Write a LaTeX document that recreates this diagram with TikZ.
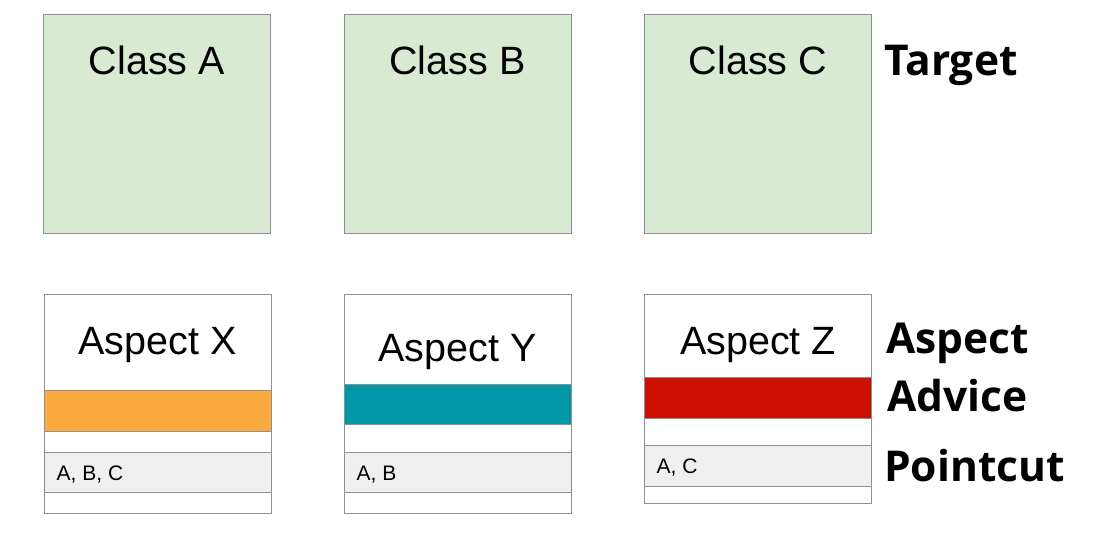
\documentclass[tikz,border=0pt]{standalone}
\usepackage{fontspec}
\setmainfont{Liberation Sans}
\newfontfamily\labelfont{Open Sans}[BoldFont={* Bold}]
\definecolor{bordergray}{HTML}{8F8F8F}
\definecolor{classgreen}{HTML}{D9EAD3}
\definecolor{bandorange}{HTML}{FBAA40}
\definecolor{bandteal}{HTML}{0097A7}
\definecolor{bandred}{HTML}{CC0F00}
\definecolor{bandgray}{HTML}{EFEFEF}
\begin{document}
\begin{tikzpicture}[x=1pt,y=-1pt,
  frame/.style={draw=bordergray, line width=1pt, minimum width=227pt, inner sep=0pt, anchor=north west, outer sep=0pt},
  classbox/.style={frame, fill=classgreen, minimum height=219pt},
  band/.style={draw=bordergray, line width=0.8pt, minimum width=227pt, inner sep=0pt, anchor=north west, outer sep=0pt},
  bigtext/.style={inner sep=0pt, anchor=base, font=\fontsize{39.5}{39.5}\selectfont},
  smalltext/.style={inner sep=0pt, anchor=base west, font=\fontsize{21}{21}\selectfont},
  sidelabel/.style={inner sep=0pt, anchor=base west, font=\labelfont\bfseries\fontsize{42.5}{42.5}\selectfont}
]
\useasboundingbox[fill=white] (0,0) rectangle (1109,536);
% Target classes
\node[classbox] (ca) at (43.5,14) {};
\node[classbox] (cb) at (344,14) {};
\node[classbox] (cc) at (644.5,14) {};
\node[bigtext] (tca) at (157,74) {Class A};
\node[bigtext] (tcb) at (457.5,74) {Class B};
\node[bigtext] (tcc) at (758,74) {Class C};
% Aspect X
\node[frame, minimum height=219pt] (ax) at (44,294.5) {};
\node[band, fill=bandorange, minimum height=41pt] (advx) at (44,390) {};
\node[band, fill=bandgray, minimum height=40pt] (pcx) at (44,452.3) {};
\node[bigtext] (tax) at (157.5,354) {Aspect X};
\node[smalltext] (tpx) at (56.5,480) {A, B, C};
% Aspect Y
\node[frame, minimum height=219pt] (ay) at (344,294.5) {};
\node[band, fill=bandteal, minimum height=40.3pt] (advy) at (344,384) {};
\node[band, fill=bandgray, minimum height=40pt] (pcy) at (344,452.3) {};
\node[bigtext] (tay) at (457.5,361) {Aspect Y};
\node[smalltext] (tpy) at (356.5,480) {A, B};
% Aspect Z
\node[frame, minimum height=208.5pt] (az) at (644.5,294.5) {};
\node[band, fill=bandred, minimum height=40.7pt] (advz) at (644.5,377.3) {};
\node[band, fill=bandgray, minimum height=40.3pt] (pcz) at (644.5,445.7) {};
\node[bigtext] (taz) at (758,354) {Aspect Z};
\node[smalltext] (tpz) at (656.5,473.3) {A, C};
% Side labels
\node[sidelabel] (ltarget) at (884,75) {Target};
\node[sidelabel] (laspect) at (886,353) {Aspect};
\node[sidelabel] (ladvice) at (887,411.7) {Advice};
\node[sidelabel] (lpoint) at (884,481.7) {Pointcut};
\end{tikzpicture}
\end{document}
